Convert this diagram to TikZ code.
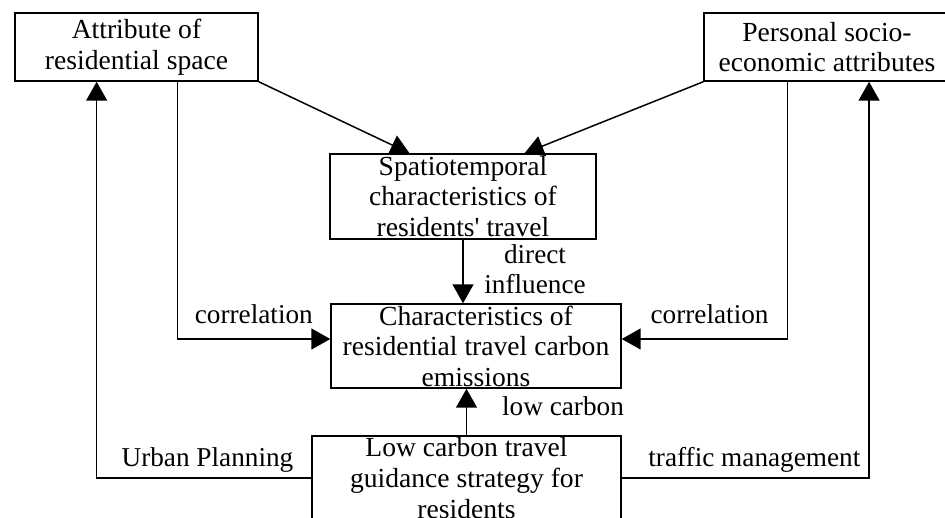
\documentclass[tikz,border=0pt]{standalone}
\usepackage{fontspec}
\setmainfont{Liberation Serif}
\usetikzlibrary{arrows.meta, positioning, calc}

\begin{document}
\begin{tikzpicture}[x=0.02cm, y=-0.02cm, >={Triangle[length=0.38cm, width=0.42cm]}, line width=0.85pt,
    box/.style={draw, rectangle, align=center, inner sep=0pt, font=\fontsize{15.7}{17.4}\selectfont},
    lbl/.style={align=center, inner sep=0pt, font=\fontsize{15.5}{17.4}\selectfont}]
      \useasboundingbox (0,0) rectangle (945,517);
      \clip (0,0) rectangle (945,517);

      % Boxes
      \node[box, minimum width=4.86cm, minimum height=1.36cm] (attr) at (136.5,47) {Attribute of\\residential space};
      \node[box, minimum width=4.92cm, minimum height=1.36cm] (pers) at (827,47) {Personal socio-\\economic attributes};
      \node[box, minimum width=5.32cm, minimum height=1.7cm] (spat) at (463,196.5) {Spatiotemporal\\characteristics of\\residents\textquotesingle{} travel};
      \node[box, minimum width=5.8cm, minimum height=1.68cm] (emis) at (476,346) {Characteristics of\\residential travel carbon\\emissions};
      \node[box, minimum width=6.18cm, minimum height=1.68cm] (guid) at (466.5,478) {Low carbon travel\\guidance strategy for\\residents};

      % Attributes into travel
      \draw[->] (attr.south east) -- ($(spat.north west)!0.3!(spat.north east)$);
      \draw[->] (pers.south west) -- ($(spat.north west)!0.73!(spat.north east)$);

      % Direct influence
      \draw[->] (spat.south) -- (spat.south |- emis.north);
      \node[lbl] (dirlbl) at (535,269) {direct\\influence};

      % Correlation
      \draw[->] ($(attr.south west)!0.667!(attr.south east)$) |- ([yshift=0.14cm]emis.west)
        node[lbl, pos=0.75, anchor=base, yshift=0.32cm] {correlation};
      \draw[->] ($(pers.south west)!0.34!(pers.south east)$) |- ([yshift=0.14cm]emis.east)
        node[lbl, pos=0.75, anchor=base, yshift=0.32cm, xshift=0.1cm] {correlation};

      % Guidance strategy
      \draw[->] (guid.north) -- (guid.north |- emis.south);
      \node[lbl, anchor=base] (lowlbl) at (563,415) {low carbon};
      \draw[->] (guid.west) -| ($(attr.south west)!0.337!(attr.south east)$)
        node[lbl, pos=0.25, anchor=base, yshift=0.24cm, xshift=0.07cm] {Urban Planning};
      \draw[->] (guid.east) -| ($(pers.south west)!0.67!(pers.south east)$)
        node[lbl, pos=0.25, anchor=base, yshift=0.24cm, xshift=0.18cm] {traffic management};
\end{tikzpicture}
\end{document}
